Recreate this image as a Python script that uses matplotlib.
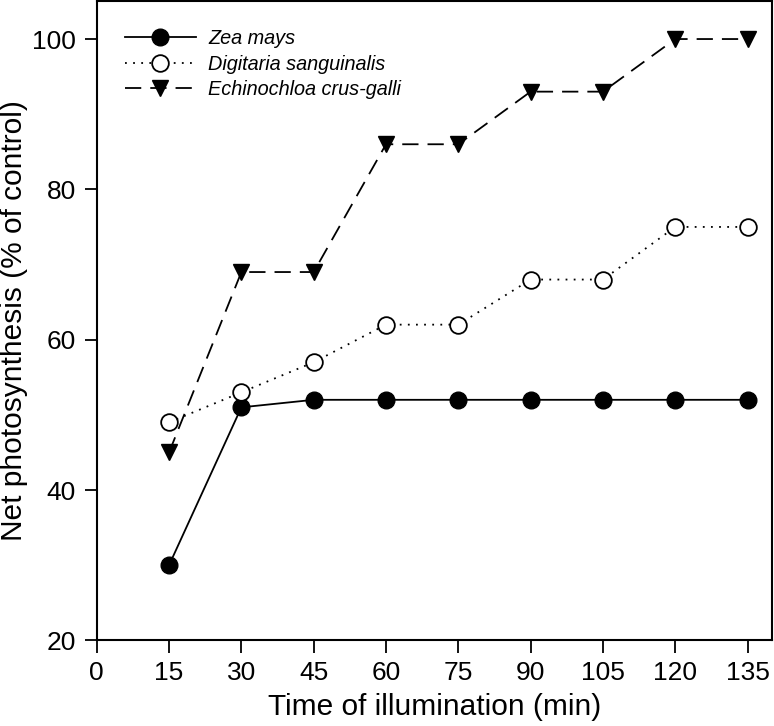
import numpy as np
import matplotlib.pyplot as plt

plt.rcParams['font.family'] = ['Liberation Sans', 'DejaVu Sans']

time_min = [15, 30, 45, 60, 75, 90, 105, 120, 135]
zea = [30, 51, 52, 52, 52, 52, 52, 52, 52]
digitaria = [49, 53, 57, 62, 62, 68, 68, 75, 75]
echinochloa = [45, 69, 69, 86, 86, 93, 93, 100, 100]
labels = ['Zea mays', 'Digitaria sanguinalis', 'Echinochloa crus-galli']

fig = plt.figure(figsize=(7.74, 7.26), dpi=100)
ax = fig.add_axes([0.125, 0.118, 0.872, 0.88])

ax.plot(time_min, zea, '-', color='black', lw=1.3, marker='o', ms=12,
        mfc='black', mec='black', label=labels[0])
ax.plot(time_min, digitaria, color='black', lw=1.3, ls=(0, (1, 3.5)), marker='o', ms=12,
        mfc='white', mec='black', mew=1.3, label=labels[1])
ax.plot(time_min, echinochloa, color='black', lw=1.3, dashes=[9, 5], marker='v', ms=12,
        mfc='black', mec='black', label=labels[2])

ax.set_xlim(0, 140)
ax.set_ylim(20, 105)
ax.set_xticks(np.arange(0, 136, 15))
ax.set_yticks(np.arange(20, 101, 20))
ax.tick_params(direction='out', length=9, width=1.3, labelsize=19, pad=6,
               top=False, right=False)
for s in ax.spines.values():
    s.set_linewidth(1.5)

ax.set_xlabel('Time of illumination (min)', fontsize=21.5, labelpad=6)
ax.set_ylabel('Net photosynthesis (% of control)', fontsize=21.5)
ax.yaxis.set_label_coords(-0.102, 0.5)

leg = ax.legend(loc='upper left', frameon=False, prop={'style': 'italic', 'size': 14.3},
                handlelength=3.6, handletextpad=0.6, borderaxespad=1.0, labelspacing=0.32)

fig.savefig('out.png', dpi=100)
